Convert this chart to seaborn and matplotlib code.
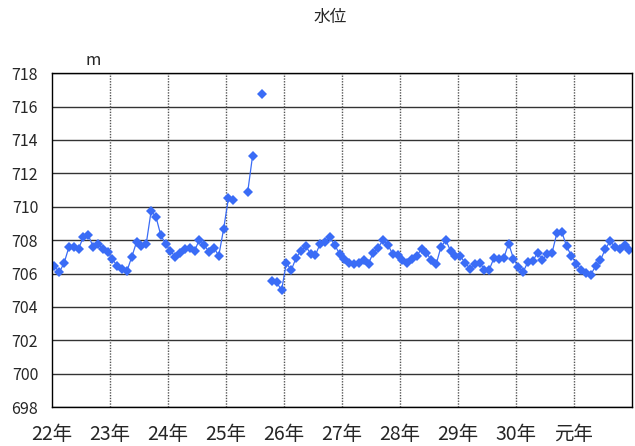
import numpy as np
import pandas as pd
import seaborn as sns
import matplotlib.pyplot as plt

years = ['22年', '23年', '24年', '25年', '26年', '27年', '28年', '29年', '30年', '元年']

# monthly water level (m), NaN = missing
level_22 = [706.44, 706.08, 706.64, 707.6, 707.6, 707.5, 708.2, 708.3, 707.6, 707.75, 707.5, 707.3]
level_23 = [706.85, 706.46, 706.3, 706.16, 707.0, 707.9, 707.66, 707.8, 709.74, 709.4, 708.3, 707.76]
level_24 = [707.36, 707.0, 707.26, 707.46, 707.56, 707.36, 708.04, 707.7, 707.3, 707.56, 707.06, 708.66]
level_25 = [710.5, 710.4, np.nan, np.nan, 710.9, 713.05, np.nan, 716.74, np.nan, 705.55, 705.47, 705.0]
level_26 = [706.64, 706.2, 706.94, 707.36, 707.64, 707.2, 707.1, 707.8, 707.9, 708.16, 707.7, 707.2]
level_27 = [706.86, 706.64, 706.6, 706.66, 706.84, 706.6, 707.26, 707.56, 708.0, 707.74, 707.16, 707.1]
level_28 = [706.8, 706.66, 706.86, 707.06, 707.5, 707.24, 706.8, 706.56, 707.6, 708.0, 707.34, 707.08]
level_29 = [707.04, 706.64, 706.3, 706.6, 706.66, 706.24, 706.24, 706.96, 706.9, 706.94, 707.8, 706.9]
level_30 = [706.37, 706.1, 706.7, 706.74, 707.26, 706.8, 707.2, 707.26, 708.44, 708.5, 707.64, 707.04]
level_r1 = [706.6, 706.24, 706.04, 705.94, 706.44, 706.8, 707.46, 707.94, 707.6, 707.5, 707.74, 707.44]


def build_frame():
    values = (level_22 + level_23 + level_24 + level_25 + level_26
              + level_27 + level_28 + level_29 + level_30 + level_r1)
    df = pd.DataFrame({'month': np.arange(len(values)) + 0.5, 'level': values})
    # split into continuous runs so gaps are not bridged
    df['seg'] = df['level'].isna().cumsum()
    return df.dropna()


def main():
    df = build_frame()
    sns.set_style('white')
    plt.rcParams['font.family'] = ['Noto Sans CJK JP', 'DejaVu Sans']

    fig = plt.figure(figsize=(6.35, 4.46), dpi=100)
    ax = fig.add_axes([0.082, 0.087, 0.913, 0.749])

    sns.lineplot(data=df, x='month', y='level', units='seg', estimator=None,
                 color='#3a6cf6', lw=0.9, marker='D', markersize=4.8,
                 markeredgewidth=0, ax=ax)

    ax.set_xlim(0, 120)
    ax.set_ylim(698, 718)
    ax.set_yticks(np.arange(698, 719, 2))
    ax.set_xticks(np.arange(0, 120, 12))
    ax.set_xticklabels(years, fontsize=14)
    ax.tick_params(axis='y', labelsize=11.5, length=0, pad=10)
    ax.tick_params(axis='x', length=0, pad=12)
    ax.set_xlabel('')
    ax.set_ylabel('')

    ax.grid(False)
    for v in np.arange(698, 719, 2):
        ax.axhline(v, color='#333333', lw=1.0, zorder=0)
    for m in np.arange(12, 120, 12):
        ax.axvline(m, color='#555555', lw=1.0, ls=(0, (1, 1)), zorder=0)
    for s in ax.spines.values():
        s.set_color('black')
        s.set_linewidth(1.0)

    fig.text(0.52, 0.96, '水位', ha='center', va='center', fontsize=12)
    fig.text(0.146, 0.865, 'm', ha='center', va='center', fontsize=12)

    fig.savefig('out.png', dpi=100)


if __name__ == '__main__':
    main()
